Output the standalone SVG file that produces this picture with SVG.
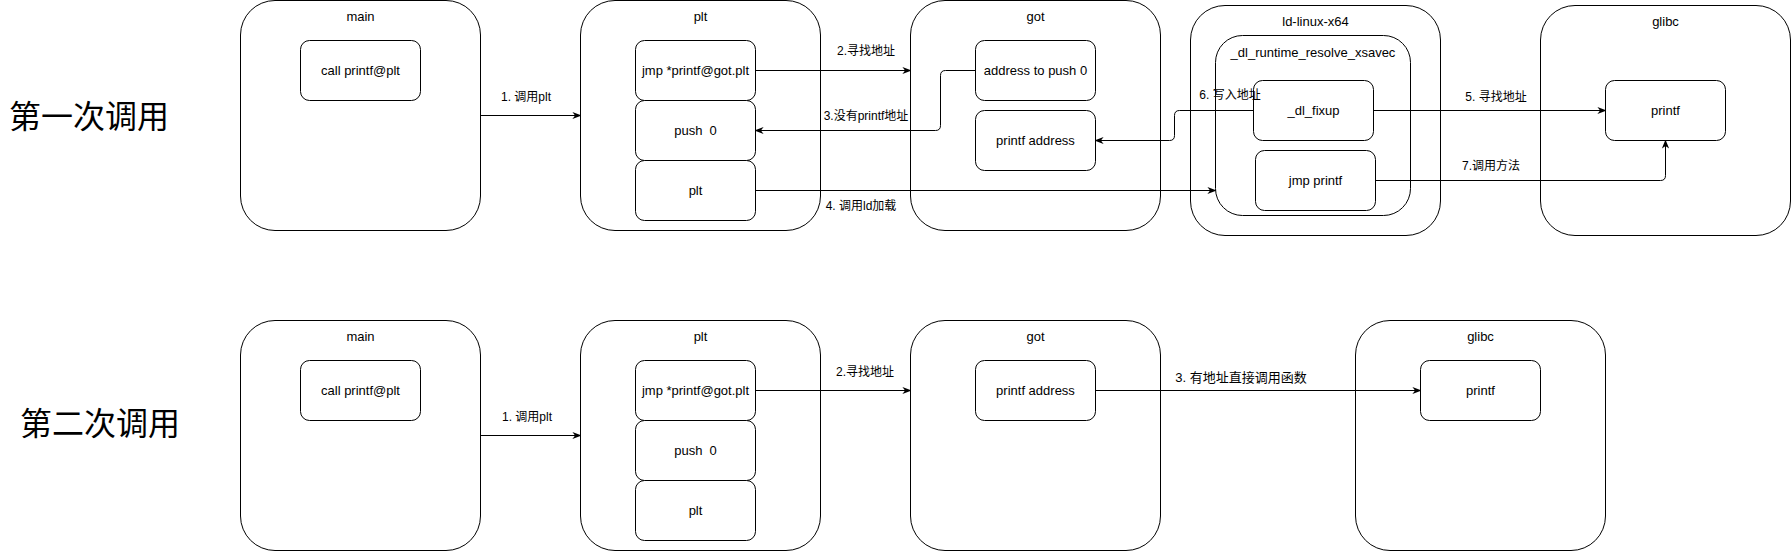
<svg xmlns="http://www.w3.org/2000/svg" width="1791" height="551" viewBox="0 0 1791 551">
<style>
.c{fill:#fff;stroke:#000;stroke-width:1}
.b{fill:#fff;stroke:#000;stroke-width:1}
.t{font-family:"Liberation Sans","Noto Sans CJK SC",sans-serif;font-size:13px;fill:#000;text-anchor:middle;dominant-baseline:central}
.l{font-family:"Liberation Sans","Noto Sans CJK SC",sans-serif;font-size:12px;fill:#000;text-anchor:middle;dominant-baseline:central}
.h{font-family:"Noto Sans CJK SC",sans-serif;font-size:32px;fill:#000;text-anchor:middle;dominant-baseline:central}
.e{fill:none;stroke:#000;stroke-width:1}
</style>
<defs>
<marker id="arr" markerUnits="userSpaceOnUse" viewBox="0 0 10 10" markerWidth="9" markerHeight="9" refX="9" refY="5" orient="auto">
<path d="M0,1 L10,5 L0,9 L3,5 z" fill="#000" stroke="none"/>
</marker>
</defs>
<rect width="1791" height="551" fill="#fff"/>

<text class="h" x="89" y="114">第一次调用</text>
<text class="h" x="100" y="421">第二次调用</text>

<!-- Row 1 -->
<g id="r1-main">
<rect class="c" x="240.5" y="0.5" width="240" height="230" rx="34.5"/>
<text class="t" x="360.5" y="16">main</text>
<rect class="b" x="300.5" y="40.5" width="120" height="60" rx="9"/>
<text class="t" x="360.5" y="70.5">call printf@plt</text>
</g>
<g id="r1-plt">
<rect class="c" x="580.5" y="0.5" width="240" height="230" rx="34.5"/>
<text class="t" x="700.5" y="16">plt</text>
<rect class="b" x="635.5" y="40.5" width="120" height="60" rx="9"/>
<text class="t" x="695.5" y="70.5">jmp *printf@got.plt</text>
<rect class="b" x="635.5" y="100.5" width="120" height="60" rx="9"/>
<text class="t" x="695.5" y="130.5" xml:space="preserve">push  0</text>
<rect class="b" x="635.5" y="160.5" width="120" height="60" rx="9"/>
<text class="t" x="695.5" y="190.5">plt</text>
</g>
<g id="r1-got">
<rect class="c" x="910.5" y="0.5" width="250" height="230" rx="34.5"/>
<text class="t" x="1035.5" y="16">got</text>
<rect class="b" x="975.5" y="40.5" width="120" height="60" rx="9"/>
<text class="t" x="1035.5" y="70.5">address to push 0</text>
<rect class="b" x="975.5" y="110.5" width="120" height="60" rx="9"/>
<text class="t" x="1035.5" y="140.5">printf address</text>
</g>
<g id="r1-ld">
<rect class="c" x="1190.5" y="5.5" width="250" height="230" rx="34.5"/>
<text class="t" x="1315.5" y="21">ld-linux-x64</text>
<rect class="b" x="1215.5" y="35.5" width="195" height="180" rx="27"/>
<text class="t" x="1313" y="52">_dl_runtime_resolve_xsavec</text>
<rect class="b" x="1253.5" y="80.5" width="120" height="60" rx="9"/>
<text class="t" x="1313.5" y="110.5">_dl_fixup</text>
<rect class="b" x="1255.5" y="150.5" width="120" height="60" rx="9"/>
<text class="t" x="1315.5" y="180.5">jmp printf</text>
</g>
<g id="r1-glibc">
<rect class="c" x="1540.5" y="5.5" width="250" height="230" rx="34.5"/>
<text class="t" x="1665.5" y="21">glibc</text>
<rect class="b" x="1605.5" y="80.5" width="120" height="60" rx="9"/>
<text class="t" x="1665.5" y="110.5">printf</text>
</g>

<!-- Row 2 -->
<g id="r2-main">
<rect class="c" x="240.5" y="320.5" width="240" height="230" rx="34.5"/>
<text class="t" x="360.5" y="336">main</text>
<rect class="b" x="300.5" y="360.5" width="120" height="60" rx="9"/>
<text class="t" x="360.5" y="390.5">call printf@plt</text>
</g>
<g id="r2-plt">
<rect class="c" x="580.5" y="320.5" width="240" height="230" rx="34.5"/>
<text class="t" x="700.5" y="336">plt</text>
<rect class="b" x="635.5" y="360.5" width="120" height="60" rx="9"/>
<text class="t" x="695.5" y="390.5">jmp *printf@got.plt</text>
<rect class="b" x="635.5" y="420.5" width="120" height="60" rx="9"/>
<text class="t" x="695.5" y="450.5" xml:space="preserve">push  0</text>
<rect class="b" x="635.5" y="480.5" width="120" height="60" rx="9"/>
<text class="t" x="695.5" y="510.5">plt</text>
</g>
<g id="r2-got">
<rect class="c" x="910.5" y="320.5" width="250" height="230" rx="34.5"/>
<text class="t" x="1035.5" y="336">got</text>
<rect class="b" x="975.5" y="360.5" width="120" height="60" rx="9"/>
<text class="t" x="1035.5" y="390.5">printf address</text>
</g>
<g id="r2-glibc">
<rect class="c" x="1355.5" y="320.5" width="250" height="230" rx="34.5"/>
<text class="t" x="1480.5" y="336">glibc</text>
<rect class="b" x="1420.5" y="360.5" width="120" height="60" rx="9"/>
<text class="t" x="1480.5" y="390.5">printf</text>
</g>

<g id="connectors">
<path class="e" d="M480.5,115.5 L580.5,115.5" marker-end="url(#arr)"/>
<path class="e" d="M755.5,70.5 L910.5,70.5" marker-end="url(#arr)"/>
<path class="e" d="M975.5,70.5 L945.5,70.5 Q940.5,70.5 940.5,75.5 L940.5,125.5 Q940.5,130.5 935.5,130.5 L755.5,130.5" marker-end="url(#arr)"/>
<path class="e" d="M755.5,190.5 L1215.5,190.5" marker-end="url(#arr)"/>
<path class="e" d="M1373.5,110.5 L1605.5,110.5" marker-end="url(#arr)"/>
<path class="e" d="M1253.5,110.5 L1179.5,110.5 Q1174.5,110.5 1174.5,115.5 L1174.5,135.5 Q1174.5,140.5 1169.5,140.5 L1095.5,140.5" marker-end="url(#arr)"/>
<path class="e" d="M1375.5,180.5 L1660.5,180.5 Q1665.5,180.5 1665.5,175.5 L1665.5,140.5" marker-end="url(#arr)"/>
<path class="e" d="M480.5,435.5 L580.5,435.5" marker-end="url(#arr)"/>
<path class="e" d="M755.5,390.5 L910.5,390.5" marker-end="url(#arr)"/>
<path class="e" d="M1095.5,390.5 L1420.5,390.5" marker-end="url(#arr)"/>
<text class="l" x="526" y="97">1. 调用plt</text>
<text class="l" x="866" y="51">2.寻找地址</text>
<text class="l" x="866" y="116">3.没有printf地址</text>
<text class="l" x="861" y="206">4. 调用ld加载</text>
<text class="l" x="1496" y="97">5. 寻找地址</text>
<text class="l" x="1230" y="95">6. 写入地址</text>
<text class="l" x="1491" y="166">7.调用方法</text>
<text class="l" x="527" y="417">1. 调用plt</text>
<text class="l" x="865" y="372">2.寻找地址</text>
<text class="l" x="1241" y="377" style="font-size:13px">3. 有地址直接调用函数</text>
</g>
</svg>
